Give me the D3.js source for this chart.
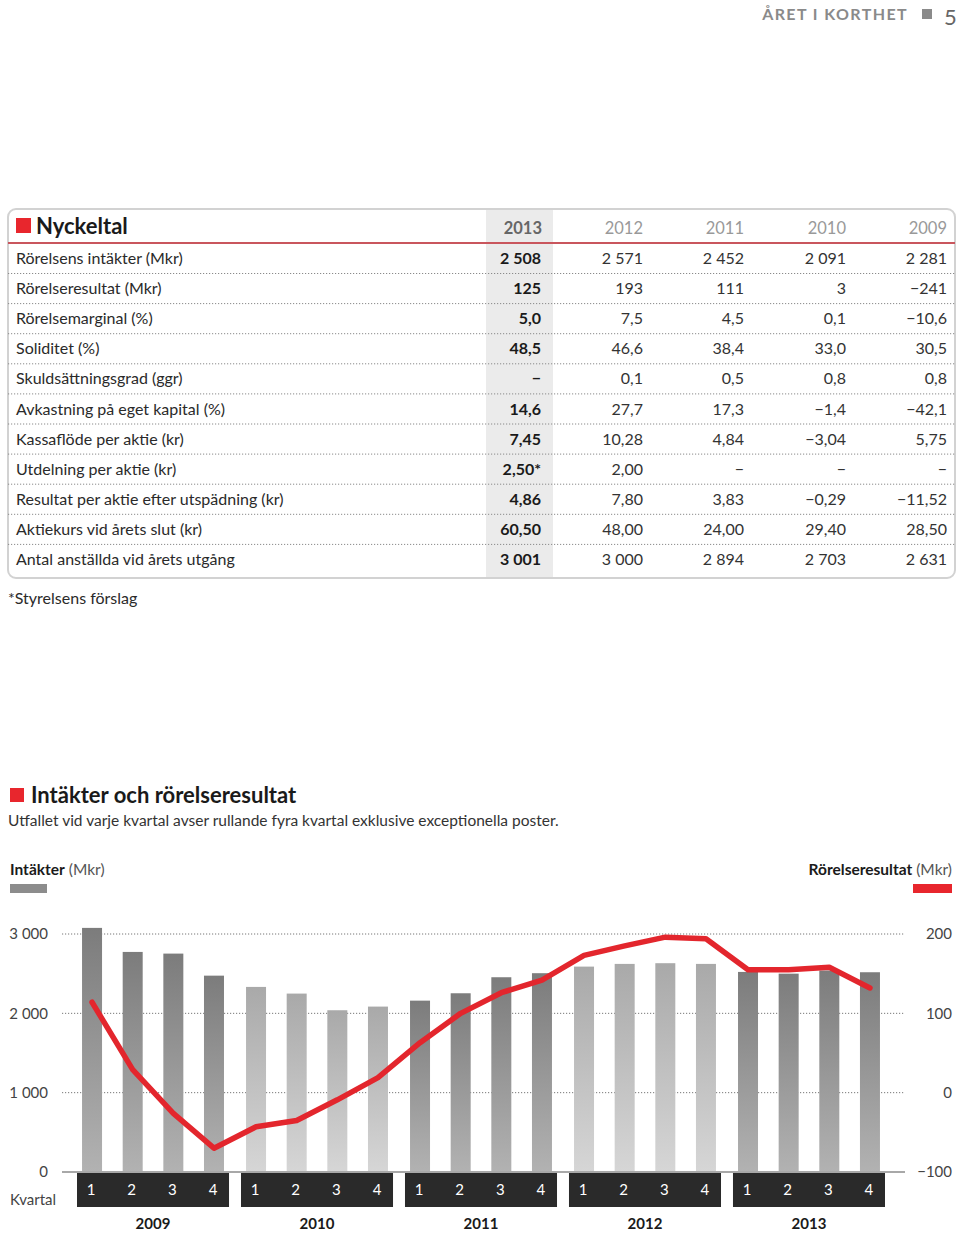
<!DOCTYPE html>
<html><head><meta charset="utf-8">
<script src="https://cdn.jsdelivr.net/npm/d3@7/dist/d3.min.js"></script>
<style>
body{margin:0;background:#fff;}
svg{display:block;font-family:Lato,"Open Sans",sans-serif;}
</style></head>
<body><svg id="c" width="960" height="1233"></svg>
<script>
// ---------- DATA ----------
const years = ["2013","2012","2011","2010","2009"];
const rowLabels = [
  "Rörelsens intäkter (Mkr)","Rörelseresultat (Mkr)","Rörelsemarginal (%)","Soliditet (%)",
  "Skuldsättningsgrad (ggr)","Avkastning på eget kapital (%)","Kassaflöde per aktie (kr)",
  "Utdelning per aktie (kr)","Resultat per aktie efter utspädning (kr)","Aktiekurs vid årets slut (kr)",
  "Antal anställda vid årets utgång"];
const col2013 = ["2 508","125","5,0","48,5","−","14,6","7,45","2,50*","4,86","60,50","3 001"];
const col2012 = ["2 571","193","7,5","46,6","0,1","27,7","10,28","2,00","7,80","48,00","3 000"];
const col2011 = ["2 452","111","4,5","38,4","0,5","17,3","4,84","−","3,83","24,00","2 894"];
const col2010 = ["2 091","3","0,1","33,0","0,8","−1,4","−3,04","−","−0,29","29,40","2 703"];
const col2009 = ["2 281","−241","−10,6","30,5","0,8","−42,1","5,75","−","−11,52","28,50","2 631"];
const tableCols = [col2013,col2012,col2011,col2010,col2009];

const chartYears = ["2009","2010","2011","2012","2013"];
const quarters = ["1","2","3","4"];
const revenue = [3077,2774,2753,2475, 2333,2249,2039,2085, 2160,2253,2455,2506, 2589,2623,2632,2623, 2522,2500,2540,2518];
const opResult = [114,29,-26,-70, -43,-35,-9,19, 63,100,126,142, 173,185,196,194, 155,155,158,132];
const leftTicks = [0,1000,2000,3000];
const rightTicks = [-100,0,100,200];

// ---------- DRAW ----------
const svg = d3.select("#c");
const fmt = v => { const s = Math.abs(v).toString().replace(/\B(?=(\d{3})+(?!\d))/g," "); return (v<0?"−":"")+s; };

// page header
svg.append("text").attr("x",908).attr("y",20).attr("text-anchor","end")
  .attr("font-size",16).attr("font-weight",700).attr("letter-spacing",1.4).attr("fill","#8a8a8a").text("ÅRET I KORTHET");
svg.append("rect").attr("x",922).attr("y",9).attr("width",10).attr("height",10).attr("fill","#8a8a8a");
svg.append("text").attr("x",944).attr("y",25).attr("font-size",22).attr("fill","#666").text("5");

// ----- table -----
const tX0 = 8, tX1 = 955, tY0 = 209, tY1 = 578;
svg.append("rect").attr("x",tX0).attr("y",tY0).attr("width",tX1-tX0).attr("height",tY1-tY0)
  .attr("rx",8).attr("fill","#fff").attr("stroke","#d2d2d2").attr("stroke-width",2);
svg.append("rect").attr("x",486).attr("y",tY0+1).attr("width",67).attr("height",tY1-tY0-2).attr("fill","#ebebeb");
svg.append("line").attr("x1",tX0).attr("x2",tX1).attr("y1",243).attr("y2",243).attr("stroke","#c9565d").attr("stroke-width",2);
svg.append("rect").attr("x",16).attr("y",218).attr("width",15).attr("height",15).attr("fill","#e8262d");
svg.append("text").attr("x",36).attr("y",234).attr("font-size",22).attr("font-weight",700).attr("fill","#1a1a1a").text("Nyckeltal");

const colX = d3.scaleOrdinal().domain(years).range([542,643,744,846,947]);
svg.selectAll("text.yr").data(years).join("text").attr("class","yr")
  .attr("x",d=>colX(d)).attr("y",234).attr("text-anchor","end").attr("font-size",16.5)
  .attr("font-weight",(d,i)=>i===0?700:400).attr("fill",(d,i)=>i===0?"#666":"#999").text(d=>d);

const rowY = d3.scalePoint().domain(d3.range(rowLabels.length)).range([258,559]);
// separators
svg.selectAll("line.sep").data(d3.range(rowLabels.length-1)).join("line").attr("class","sep")
  .attr("x1",tX0).attr("x2",tX1).attr("y1",i=>rowY(i)+15.5).attr("y2",i=>rowY(i)+15.5)
  .attr("stroke","#8a8a8a").attr("stroke-width",1).attr("stroke-dasharray","1.2,1.8");
svg.selectAll("text.rl").data(rowLabels).join("text").attr("class","rl")
  .attr("x",16).attr("y",(d,i)=>rowY(i)+6).attr("font-size",16).attr("fill","#2a2a2a").text(d=>d);
tableCols.forEach((col,ci)=>{
  svg.selectAll("text.c"+ci).data(col).join("text").attr("class","c"+ci)
    .attr("x",colX(years[ci])-(ci===0?1:0)).attr("y",(d,i)=>rowY(i)+6).attr("text-anchor","end")
    .attr("font-size",16).attr("font-weight",ci===0?700:400).attr("fill",ci===0?"#1a1a1a":"#333").text(d=>d);
});
svg.append("text").attr("x",8).attr("y",604).attr("font-size",16).attr("fill","#2a2a2a").text("*Styrelsens förslag");

// ----- chart heading -----
svg.append("rect").attr("x",10).attr("y",788).attr("width",14).attr("height",14).attr("fill","#e8262d");
svg.append("text").attr("x",31).attr("y",803).attr("font-size",22).attr("font-weight",700).attr("fill","#1a1a1a").text("Intäkter och rörelseresultat");
svg.append("text").attr("x",8).attr("y",826).attr("font-size",15.5).attr("fill","#333")
  .text("Utfallet vid varje kvartal avser rullande fyra kvartal exklusive exceptionella poster.");

// legends
const lt = svg.append("text").attr("x",10).attr("y",875).attr("font-size",15.5).attr("fill","#1a1a1a");
lt.append("tspan").attr("font-weight",700).text("Intäkter");
lt.append("tspan").attr("fill","#555").text(" (Mkr)");
svg.append("rect").attr("x",10).attr("y",884).attr("width",37).attr("height",9).attr("fill","#8c8c8c");
const rt = svg.append("text").attr("x",952).attr("y",875).attr("text-anchor","end").attr("font-size",15.5).attr("fill","#1a1a1a");
rt.append("tspan").attr("font-weight",700).text("Rörelseresultat");
rt.append("tspan").attr("fill","#555").text(" (Mkr)");
svg.append("rect").attr("x",913).attr("y",884).attr("width",39).attr("height",9).attr("fill","#e8262d");

// scales
const yL = d3.scaleLinear().domain([0,3000]).range([1172,934]);
const yR = d3.scaleLinear().domain([-100,200]).range([1172,934]);
const xG = d3.scaleBand().domain(chartYears).range([77,885]).paddingInner(0.073);
const xQ = d3.scalePoint().domain(quarters).range([0,xG.bandwidth()]).padding(0.37);
const cx = i => xG(chartYears[Math.floor(i/4)]) + xQ(quarters[i%4]);

// gradients
const defs = svg.append("defs");
[["gDark","#7c7c7c","#b2b2b2"],["gLight","#a9a9a9","#d6d6d6"]].forEach(([id,a,b])=>{
  const g = defs.append("linearGradient").attr("id",id).attr("x1",0).attr("x2",0).attr("y1",0).attr("y2",1);
  g.append("stop").attr("offset",0).attr("stop-color",a);
  g.append("stop").attr("offset",1).attr("stop-color",b);
});

// grid
const grid = svg.append("g");
grid.selectAll("line").data(leftTicks.filter(d=>d>0)).join("line")
  .attr("x1",62).attr("x2",905).attr("y1",d=>yL(d)).attr("y2",d=>yL(d))
  .attr("stroke","#777").attr("stroke-width",1).attr("stroke-dasharray","1.2,1.8");

// axes labels via d3 axes
const axL = d3.axisLeft(yL).tickValues(leftTicks).tickFormat(fmt).tickSize(0).tickPadding(0);
const gL = svg.append("g").attr("transform","translate(48,0)").call(axL);
gL.select(".domain").remove();
gL.selectAll("text").attr("font-size",15).attr("fill","#444").attr("font-family","Lato,'Open Sans',sans-serif");
const axR = d3.axisRight(yR).tickValues(rightTicks).tickFormat(fmt).tickSize(0).tickPadding(0);
const gR = svg.append("g").attr("transform","translate(952,0)").call(axR);
gR.select(".domain").remove();
gR.selectAll("text").attr("text-anchor","end").attr("font-size",15).attr("fill","#444").attr("font-family","Lato,'Open Sans',sans-serif");

// bars
svg.selectAll("rect.bar").data(revenue).join("rect").attr("class","bar")
  .attr("x",(d,i)=>cx(i)-10).attr("width",20)
  .attr("y",d=>yL(d)).attr("height",d=>yL(0)-yL(d))
  .attr("fill",(d,i)=>Math.floor(i/4)%2===0?"url(#gDark)":"url(#gLight)");

// baseline
svg.append("line").attr("x1",62).attr("x2",905).attr("y1",yL(0)).attr("y2",yL(0)).attr("stroke","#a8a8a8").attr("stroke-width",2);

// line
const line = d3.line().x((d,i)=>cx(i)).y(d=>yR(d));
svg.append("path").datum(opResult).attr("d",line).attr("fill","none")
  .attr("stroke","#e3262d").attr("stroke-width",5.5).attr("stroke-linejoin","round").attr("stroke-linecap","round");

// quarter boxes
svg.selectAll("rect.qb").data(chartYears).join("rect").attr("class","qb")
  .attr("x",d=>xG(d)).attr("width",xG.bandwidth()).attr("y",1173).attr("height",34).attr("fill","#2a2a2a");
chartYears.forEach(y=>{
  svg.selectAll(null).data(quarters).join("text")
    .attr("x",q=>xG(y)+xQ(q)-1).attr("y",1195).attr("text-anchor","middle")
    .attr("font-size",15).attr("fill","#fff").text(q=>q);
});
svg.selectAll("text.yl").data(chartYears).join("text").attr("class","yl")
  .attr("x",d=>xG(d)+xG.bandwidth()/2).attr("y",1229).attr("text-anchor","middle")
  .attr("font-size",15).attr("font-weight",700).attr("fill","#1a1a1a").text(d=>d);
svg.append("text").attr("x",10).attr("y",1205).attr("font-size",15).attr("fill","#444").text("Kvartal");
</script></body></html>
